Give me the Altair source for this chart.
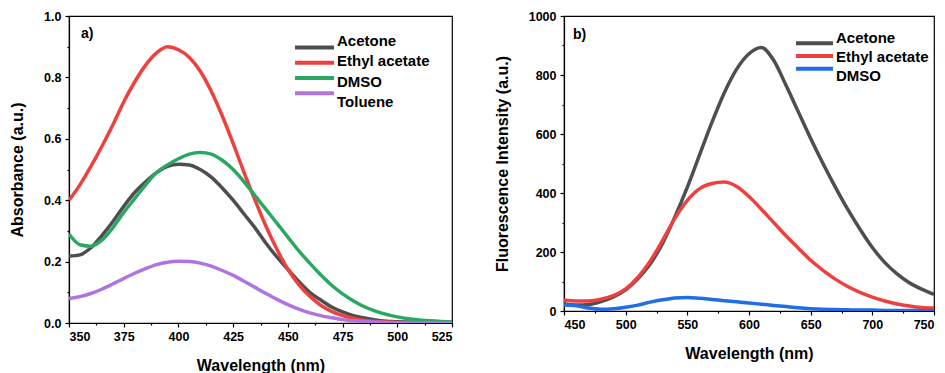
import altair as alt
import pandas as pd

FONT = "Liberation Sans"

# ---------------- Panel a) absorbance ----------------
wl_abs = [350, 355, 360, 365, 370, 375, 380, 385, 390, 395, 400, 405, 410, 415, 420, 425,
          430, 435, 440, 445, 450, 455, 460, 465, 470, 475, 480, 485, 490, 495, 500, 505,
          510, 515, 520, 525]
abs_acetone = [0.218, 0.222, 0.245, 0.285, 0.33, 0.38, 0.425, 0.46, 0.49, 0.51, 0.517, 0.515,
               0.50, 0.475, 0.44, 0.40, 0.355, 0.31, 0.26, 0.215, 0.175, 0.135, 0.10, 0.075,
               0.052, 0.036, 0.024, 0.016, 0.010, 0.006, 0.004, 0.003, 0.002, 0.001, 0.001, 0.001]
abs_ethyl = [0.40, 0.45, 0.51, 0.575, 0.645, 0.72, 0.785, 0.84, 0.88, 0.90, 0.89, 0.865,
             0.82, 0.755, 0.675, 0.585, 0.49, 0.40, 0.315, 0.24, 0.175, 0.125, 0.087, 0.058,
             0.038, 0.024, 0.015, 0.009, 0.005, 0.003, 0.002, 0.001, 0.001, 0.0, 0.0, 0.0]
abs_dmso = [0.29, 0.255, 0.25, 0.27, 0.31, 0.36, 0.405, 0.45, 0.49, 0.515, 0.535, 0.55,
            0.555, 0.55, 0.53, 0.50, 0.46, 0.415, 0.37, 0.325, 0.28, 0.235, 0.195, 0.157,
            0.123, 0.095, 0.072, 0.053, 0.039, 0.028, 0.02, 0.014, 0.01, 0.007, 0.005, 0.004]
abs_toluene = [0.08, 0.086, 0.096, 0.11, 0.127, 0.145, 0.162, 0.177, 0.19, 0.198, 0.201, 0.2,
               0.195, 0.185, 0.171, 0.155, 0.136, 0.116, 0.096, 0.077, 0.06, 0.045, 0.033, 0.024,
               0.017, 0.011, 0.007, 0.005, 0.003, 0.002, 0.001, 0.0, 0.0, 0.0, 0.0, 0.0]
abs_names = ["Acetone", "Ethyl acetate", "DMSO", "Toluene"]
abs_colors = ["#4e4e4e", "#ef4040", "#2aa862", "#b073e0"]

# ---------------- Panel b) fluorescence ----------------
wl_fl = [450, 460, 470, 480, 490, 500, 510, 520, 530, 540, 550, 560, 570, 580, 590, 600,
         610, 620, 630, 640, 650, 660, 670, 680, 690, 700, 710, 720, 730, 740, 750]
fl_acetone = [25, 20, 22, 32, 48, 72, 110, 160, 230, 320, 420, 530, 640, 740, 820, 872,
              893, 850, 765, 675, 585, 500, 420, 345, 277, 215, 165, 126, 96, 74, 56]
fl_ethyl = [37, 34, 34, 40, 52, 75, 115, 170, 240, 315, 375, 415, 432, 437, 422, 388,
            345, 300, 255, 213, 172, 138, 108, 83, 63, 47, 34, 24, 17, 12, 10]
fl_dmso = [20, 18, 10, 6, 8, 13, 20, 30, 38, 44, 46, 43, 39, 35, 31, 27,
           23, 19, 15, 11, 8, 6, 5, 4, 3, 3, 2, 2, 2, 1, 1]
fl_names = ["Acetone", "Ethyl acetate", "DMSO"]
fl_colors = ["#4e4e4e", "#ef4040", "#1f6ee6"]

# axis tick labels
abs_x_major = [350, 375, 400, 425, 450, 475, 500, 525]
abs_x_minor = [362.5, 387.5, 412.5, 437.5, 462.5, 487.5, 512.5]
abs_y_major = [0.0, 0.2, 0.4, 0.6, 0.8, 1.0]
abs_y_minor = [0.1, 0.3, 0.5, 0.7, 0.9]
fl_x_major = [450, 500, 550, 600, 650, 700, 750]
fl_x_minor = [475, 525, 575, 625, 675, 725]
fl_y_major = [0, 200, 400, 600, 800, 1000]
fl_y_minor = [100, 300, 500, 700, 900]


def long_df(wl, series, names):
    rows = []
    for name, vals in zip(names, series):
        for i, (w, v) in enumerate(zip(wl, vals)):
            rows.append({"wl": w, "val": v, "series": name, "order": i})
    return pd.DataFrame(rows)


def panel(df, xdom, ydom, xmaj, xmin, ymaj, ymin, yfmt, ytitle, names, colors,
          w, h, tag, tagx, tagy, leg_x0, leg_x1, leg_tx, leg_y0, leg_dy):
    xs = alt.Scale(domain=xdom, nice=False, zero=False)
    ys = alt.Scale(domain=ydom, nice=False, zero=False)
    cs = alt.Scale(domain=names, range=colors)
    base = alt.Chart(df)
    lines = base.mark_line(strokeWidth=3.5, interpolate="monotone", clip=True).encode(
        x=alt.X("wl:Q", scale=xs,
                axis=alt.Axis(values=xmaj, title="Wavelength (nm)", grid=False, orient="bottom",
                              tickSize=4, labelPadding=3, titlePadding=15, format="d")),
        y=alt.Y("val:Q", scale=ys,
                axis=alt.Axis(values=ymaj, title=ytitle, grid=False, format=yfmt, orient="left",
                              tickSize=4, labelPadding=4, titlePadding=18)),
        color=alt.Color("series:N", sort=names, scale=cs, legend=None),
        order="order:Q",
    )
    minor = base.mark_point(opacity=0).encode(
        x=alt.X("wl:Q", scale=xs,
                axis=alt.Axis(values=xmin, orient="bottom", labels=False, tickSize=2,
                              domain=False, grid=False, title=None)),
        y=alt.Y("val:Q", scale=ys,
                axis=alt.Axis(values=ymin, orient="left", labels=False, tickSize=2,
                              domain=False, grid=False, title=None)),
    )
    # legend drawn as marks (one row per series)
    leg_df = pd.DataFrame({"series": names})
    ly = alt.Y("series:N", sort=names, axis=None,
               scale=alt.Scale(domain=names, padding=0,
                               range=[leg_y0, leg_y0 + leg_dy * (len(names) - 1)]))
    leg_rule = alt.Chart(leg_df).mark_rule(strokeWidth=4).encode(
        x=alt.value(leg_x0), x2=alt.value(leg_x1), y=ly,
        color=alt.Color("series:N", sort=names, scale=cs, legend=None),
    )
    leg_text = alt.Chart(leg_df).mark_text(
        font=FONT, fontWeight="bold", fontSize=15, align="left", baseline="middle",
        color="black", dy=1
    ).encode(x=alt.value(leg_tx), y=ly, text="series:N")
    label = alt.Chart(pd.DataFrame({"t": [tag]})).mark_text(
        font=FONT, fontWeight="bold", fontSize=14, align="left", baseline="middle",
        color="black"
    ).encode(text="t:N", x=alt.value(tagx), y=alt.value(tagy))
    return alt.layer(minor, lines, leg_rule, leg_text, label).resolve_axis(
        x="independent", y="independent").resolve_scale(y="independent").properties(
        width=w, height=h)


df_abs = long_df(wl_abs, [abs_acetone, abs_ethyl, abs_dmso, abs_toluene], abs_names)
df_fl = long_df(wl_fl, [fl_acetone, fl_ethyl, fl_dmso], fl_names)

left = panel(df_abs, [350, 525], [0, 1], abs_x_major, abs_x_minor, abs_y_major, abs_y_minor,
             ".1f", "Absorbance (a.u.)", abs_names, abs_colors, 383, 307,
             "a)", 12, 18, 226, 265, 268, 24, 20.3)
right = panel(df_fl, [450, 750], [0, 1000], fl_x_major, fl_x_minor, fl_y_major, fl_y_minor,
              "d", "Fluorescence Intensity (a.u.)", fl_names, fl_colors, 370, 295,
              "b)", 9, 19, 232, 269, 272, 21, 19)

chart = alt.hconcat(left, right, spacing=37).resolve_scale(
    color="independent", x="independent", y="independent"
).properties(
    padding={"left": 9, "top": 9, "right": 2, "bottom": 2}
).configure(
    background="white"
).configure_view(
    stroke="black", strokeWidth=1.2
).configure_axis(
    labelFont=FONT, labelFontWeight="bold", labelFontSize=12.5, labelColor="black",
    titleFont=FONT, titleFontWeight="bold", titleFontSize=16, titleColor="black",
    domainColor="black", domainWidth=1.2, tickColor="black", tickWidth=1.2
)

chart.save("out.html", embed_options={"renderer": "svg", "actions": False})
